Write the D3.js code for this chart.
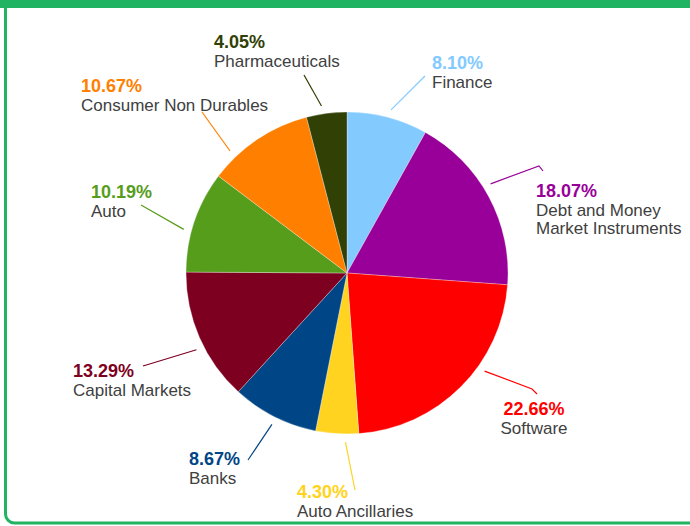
<!DOCTYPE html>
<html>
<head>
<meta charset="utf-8">
<script src="https://cdn.jsdelivr.net/npm/d3@7"></script>
<style>
  body { margin: 0; background: #fff; }
  text { font-family: "Liberation Sans", Arial, sans-serif; }
</style>
</head>
<body>
<div id="chart"></div>
<script>
// sectors, clockwise from 12 o'clock
var sectors = ["Finance", "Debt and Money|Market Instruments", "Software", "Auto Ancillaries", "Banks",
  "Capital Markets", "Auto", "Consumer Non Durables", "Pharmaceuticals"];
var weights = [8.10, 18.07, 22.66, 4.30, 8.67, 13.29, 10.19, 10.67, 4.05];
var colors = ["#83caff", "#990099", "#ff0000", "#ffd320", "#004586", "#7e0021", "#579d1c", "#ff8000", "#314004"];

var width = 690, height = 526;
var cx = 347, cy = 273, radius = 161;

// label layout: [text x, pct baseline, anchor, leader start nudge (deg), leader end x, y, hook x, y]
var labelPos = [
  [432, 69, "start", 0.5, 425, 76],
  [536, 197, "start", -3.5, 539, 166, 543, 171],
  [534, 415, "middle", -9.5, 532, 389, 537, 394],
  [297, 498, "start", -3, 355, 490],
  [189, 465, "start", -0.5, 248, 460],
  [73, 377, "start", -3.4, 143, 366],
  [91, 198, "start", -3.7, 141, 205],
  [81, 92, "start", -10, 202, 112],
  [214, 48, "start", -1.4, 304, 75]
];

var svg = d3.select("#chart").append("svg")
  .attr("width", width)
  .attr("height", height);

// green frame
svg.append("rect")
  .attr("x", 5.5).attr("y", -20)
  .attr("width", 720).attr("height", 543)
  .attr("rx", 9)
  .attr("fill", "none")
  .attr("stroke", "#20b462")
  .attr("stroke-width", 3);
svg.append("rect")
  .attr("x", 0).attr("y", 0)
  .attr("width", width).attr("height", 8)
  .attr("fill", "#20b462");

var pie = d3.pie().sort(null).value(function(d) { return d; });
var arcs = pie(weights);
var arc = d3.arc().innerRadius(0).outerRadius(radius);

var g = svg.append("g").attr("transform", "translate(" + cx + "," + cy + ")");

g.selectAll("path")
  .data(arcs)
  .enter().append("path")
  .attr("d", arc)
  .attr("fill", function(d, i) { return colors[i]; })
  .attr("stroke", "#fff")
  .attr("stroke-width", 0.3);

// leader lines, starting just outside the rim
var rStart = radius + 8;
svg.selectAll(".leader")
  .data(arcs)
  .enter().append("polyline")
  .attr("class", "leader")
  .attr("fill", "none")
  .attr("stroke", function(d, i) { return colors[i]; })
  .attr("stroke-width", 1.2)
  .attr("points", function(d, i) {
    var p = labelPos[i];
    var a = (d.startAngle + d.endAngle) / 2 + p[3] * Math.PI / 180;
    var pts = [[cx + rStart * Math.sin(a), cy - rStart * Math.cos(a)], [p[4], p[5]]];
    if (p.length > 6) pts.push([p[6], p[7]]);
    return pts.map(function(q) { return q.join(","); }).join(" ");
  });

// labels
var labels = svg.selectAll(".label")
  .data(arcs)
  .enter().append("text")
  .attr("class", "label")
  .attr("text-anchor", function(d, i) { return labelPos[i][2]; });

labels.append("tspan")
  .attr("x", function(d, i) { return labelPos[i][0]; })
  .attr("y", function(d, i) { return labelPos[i][1]; })
  .attr("font-weight", "bold")
  .attr("font-size", 18)
  .attr("fill", function(d, i) { return colors[i]; })
  .text(function(d, i) { return weights[i].toFixed(2) + "%"; });

labels.each(function(d, i) {
  var t = d3.select(this);
  sectors[i].split("|").forEach(function(line, k) {
    t.append("tspan")
      .attr("x", labelPos[i][0])
      .attr("y", labelPos[i][1] + 19 + k * 18)
      .attr("font-size", 17)
      .attr("fill", "#404040")
      .text(line);
  });
});
</script>
</body>
</html>
